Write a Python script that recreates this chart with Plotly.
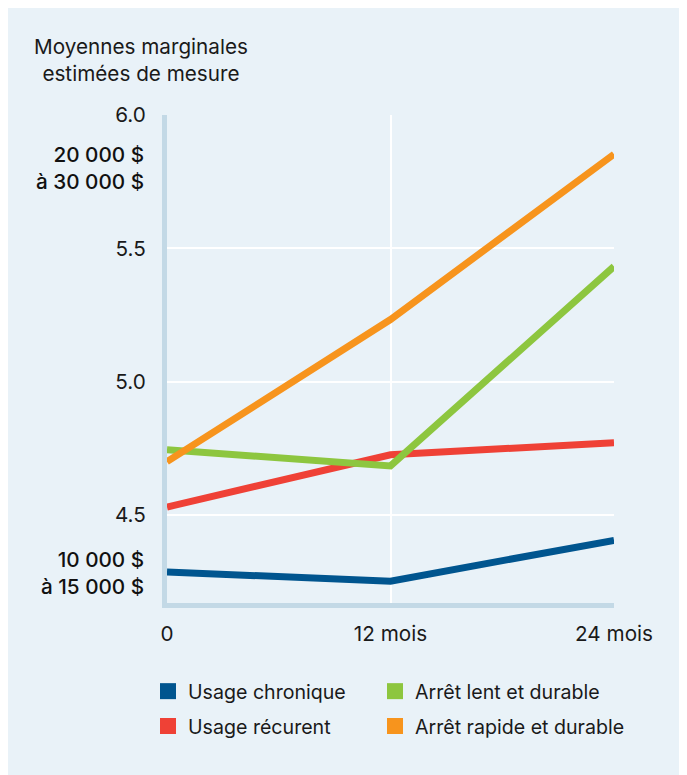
import plotly.graph_objects as go

months = [0, 12, 24]
x_tick_labels = ["0", "12 mois", "24 mois"]
y_tick_vals = [4.5, 5.0, 5.5, 6.0]
y_tick_labels = ["4.5", "5.0", "5.5", "6.0"]

usage_chronique = [4.286, 4.252, 4.405]
usage_recurent = [4.530, 4.726, 4.771]
arret_lent = [4.745, 4.684, 5.432]
arret_rapide = [4.700, 5.233, 5.853]

series_names = ["Usage chronique", "Arrêt lent et durable", "Usage récurent", "Arrêt rapide et durable"]
series_values = [usage_chronique, arret_lent, usage_recurent, arret_rapide]
series_colors = ["#00558f", "#8dc63f", "#ef4136", "#f7941d"]

band_labels = ["20 000 $<br>à 30 000 $", "10 000 $<br>à 15 000 $"]
band_positions = [5.80, 4.283]

y_title = "Moyennes marginales<br>estimées de mesure"

FONT = "Inter, Roboto, sans-serif"
BG = "#e9f2f8"
FS = 20.7
LFS = 19.6

W, H = 676, 767
ml, mt = 159, 107
plot_right, plot_bottom = 606, 595.5
mr, mb = W - plot_right, H - plot_bottom
pw = W - ml - mr
ph = H - mt - mb

fig = go.Figure()

draw_order = [0, 2, 1, 3]
for i in draw_order:
    fig.add_trace(go.Scatter(
        x=months, y=series_values[i], mode="lines",
        line=dict(color=series_colors[i], width=7),
        showlegend=False, hoverinfo="skip"))

# legend: 2 columns x 2 rows, one legend box per entry
legend_ids = ["legend", "legend2", "legend3", "legend4"]
col_sym_center = [160, 387]   # figure px
row_center = [684, 719]       # figure px
legend_layouts = {}
for k, (name, color, lid) in enumerate(zip(series_names, series_colors, legend_ids)):
    fig.add_trace(go.Scatter(
        x=[None], y=[None], mode="markers", name=name, legend=lid,
        marker=dict(symbol="square", size=16, color=color)))
    col, row = k % 2, k // 2
    Lx = col_sym_center[col] - 20
    legend_layouts[lid] = dict(
        x=(Lx - ml) / pw, y=-(row_center[row] - (mt + ph)) / ph,
        xanchor="left", yanchor="middle", orientation="v",
        font=dict(size=LFS, family=FONT, color="#1a1a1a"),
        bgcolor="rgba(0,0,0,0)", borderwidth=0)

fig.update_layout(
    width=W, height=H,
    margin=dict(l=ml, r=mr, t=mt, b=mb, pad=0, autoexpand=False),
    paper_bgcolor=BG,
    plot_bgcolor=BG,
    font=dict(family=FONT, size=FS, color="#1a1a1a"),
    xaxis=dict(range=[0, 24], tickvals=months, ticktext=x_tick_labels,
               showgrid=True, gridcolor="white", gridwidth=2,
               zeroline=False, showline=True, linecolor="#c3d9e6", linewidth=5,
               ticks="", ticklabelstandoff=8, automargin=False),
    yaxis=dict(range=[4.17, 6.0], tickvals=y_tick_vals, ticktext=y_tick_labels,
               showgrid=True, gridcolor="white", gridwidth=2,
               zeroline=False, showline=True, linecolor="#c3d9e6", linewidth=5,
               ticks="", ticklabelstandoff=12, automargin=False),
    showlegend=True,
    **legend_layouts,
)

fig.add_annotation(text=y_title, xref="paper", yref="paper",
                   x=(133 - ml) / pw, y=1 + (mt - 52) / ph,
                   xanchor="center", yanchor="middle", showarrow=False,
                   align="center", font=dict(size=FS, family=FONT, color="#1a1a1a"))

for lab, pos in zip(band_labels, band_positions):
    fig.add_annotation(text=lab, xref="paper", yref="y",
                       x=(138 - ml) / pw, y=pos, xanchor="right", yanchor="middle",
                       showarrow=False, align="right",
                       font=dict(size=FS, family=FONT, color="#111111", weight=500))

fig.write_html("out.html")
